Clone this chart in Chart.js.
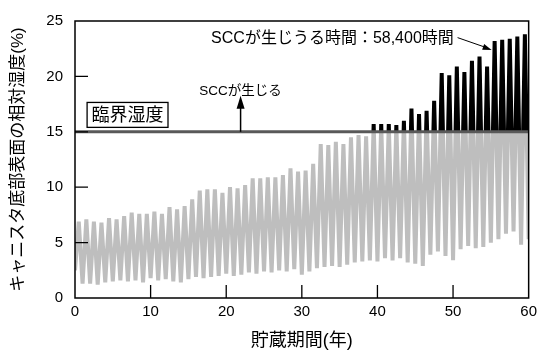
<!DOCTYPE html>
<html>
<head>
<meta charset="utf-8">
<script src="https://cdn.jsdelivr.net/npm/chart.js@4.4.1/dist/chart.umd.min.js"></script>
<style>
  html, body { margin: 0; padding: 0; background: #fff; }
  #wrap { width: 542px; height: 356px; }
</style>
</head>
<body>
<div id="wrap"><canvas id="myChart" width="542" height="356"></canvas></div>
<script>
// storage years (trough of each yearly cycle sits on the whole year)
const years = [0, 1, 2, 3, 4, 5, 6, 7, 8, 9, 10, 11, 12, 13, 14, 15, 16, 17, 18, 19, 20,
  21, 22, 23, 24, 25, 26, 27, 28, 29, 30, 31, 32, 33, 34, 35, 36, 37, 38, 39, 40,
  41, 42, 43, 44, 45, 46, 47, 48, 49, 50, 51, 52, 53, 54, 55, 56, 57, 58, 59, 60];

// yearly maximum RH (%), one per year 0-59
const peakRH = [6.9, 7.1, 6.9, 6.8, 7.2, 7.1, 7.4, 7.7, 7.6, 7.6,
  7.8, 7.6, 8.2, 8.0, 8.3, 8.9, 9.7, 9.8, 9.8, 9.5,
  10.0, 9.9, 10.2, 10.8, 10.8, 10.9, 10.9, 11.1, 11.7, 11.4,
  11.5, 12.1, 13.9, 13.8, 14.1, 13.9, 14.5, 14.7, 14.6, 15.7,
  15.7, 15.7, 15.6, 16.0, 17.1, 16.6, 16.9, 17.8, 20.3, 20.1,
  20.9, 20.4, 21.4, 21.8, 20.9, 23.2, 23.3, 23.4, 23.6, 23.8];

// yearly minimum RH (%), one per year 0-60
const troughRH = [2.5, 1.3, 1.3, 1.2, 1.4, 1.5, 1.6, 1.5, 1.6, 1.4,
  1.8, 1.6, 1.7, 1.5, 1.4, 1.7, 1.9, 1.8, 1.9, 2.0,
  2.2, 2.0, 2.1, 2.3, 2.2, 2.4, 2.3, 2.5, 2.4, 2.6,
  2.1, 2.4, 2.7, 2.8, 2.9, 2.8, 3.0, 3.2, 3.3, 3.4,
  3.3, 3.6, 3.4, 3.6, 3.2, 3.1, 2.9, 3.9, 4.2, 3.8,
  3.4, 4.4, 4.7, 4.5, 4.6, 5.0, 5.3, 5.8, 6.0, 4.8, 5.3];

const criticalRH = 15;
const xTicks = [0, 10, 20, 30, 40, 50, 60];
const yTicks = [0, 5, 10, 15, 20, 25];

const GRAY = '#bebebe';
const FONT = '"Liberation Sans", Arial, "Noto Sans CJK JP", sans-serif';

// zigzag: trough at start of year, peak in the middle of it
const rhPoints = [];
for (let i = 0; i < peakRH.length; i++) {
    rhPoints.push({ x: years[i], y: troughRH[i] });
    rhPoints.push({ x: years[i] + 0.5, y: peakRH[i] });
}
rhPoints.push({ x: years[years.length - 1], y: troughRH[troughRH.length - 1] });

const limitPoints = [
    { x: xTicks[0], y: criticalRH },
    { x: xTicks[xTicks.length - 1], y: criticalRH }
];

// gray below the critical humidity, black above it
function curveColor(context) {
    const chart = context.chart;
    const area = chart.chartArea;
    if (!area) return GRAY;
    const y15 = chart.scales.y.getPixelForValue(criticalRH);
    const f = (area.bottom - y15) / (area.bottom - area.top);
    const g = chart.ctx.createLinearGradient(0, area.bottom, 0, area.top);
    g.addColorStop(0, GRAY);
    g.addColorStop(f, GRAY);
    g.addColorStop(f, '#000');
    g.addColorStop(1, '#000');
    return g;
}

function arrowHead(ctx, x1, y1, x2, y2, len, half) {
    const a = Math.atan2(y2 - y1, x2 - x1);
    ctx.beginPath();
    ctx.moveTo(x2, y2);
    ctx.lineTo(x2 - len * Math.cos(a) + half * Math.sin(a), y2 - len * Math.sin(a) - half * Math.cos(a));
    ctx.lineTo(x2 - len * Math.cos(a) - half * Math.sin(a), y2 - len * Math.sin(a) + half * Math.cos(a));
    ctx.closePath();
    ctx.fill();
}

// frame, inward ticks and the notes
const frameAndNotes = {
    id: 'frameAndNotes',
    afterDraw(chart) {
        const ctx = chart.ctx;
        const a = chart.chartArea;
        const sx = chart.scales.x, sy = chart.scales.y;
        const X = v => sx.getPixelForValue(v);
        const Y = v => sy.getPixelForValue(v);
        ctx.save();
        ctx.strokeStyle = '#000';
        ctx.fillStyle = '#000';

        // inward tick marks
        ctx.lineWidth = 1.3;
        ctx.beginPath();
        xTicks.slice(1, -1).forEach(t => { ctx.moveTo(X(t), a.bottom); ctx.lineTo(X(t), a.bottom - 13); });
        yTicks.slice(1, -1).forEach(t => { ctx.moveTo(a.left, Y(t)); ctx.lineTo(a.left + 13, Y(t)); });
        ctx.stroke();

        // frame
        ctx.lineWidth = 1.5;
        ctx.strokeRect(a.left, a.top, a.right - a.left, a.bottom - a.top);

        // 臨界湿度 box
        ctx.lineWidth = 1.3;
        ctx.fillStyle = '#fff';
        ctx.fillRect(X(1.6), Y(17.65), X(12.3) - X(1.6), Y(15.4) - Y(17.65));
        ctx.strokeRect(X(1.6), Y(17.65), X(12.3) - X(1.6), Y(15.4) - Y(17.65));
        ctx.fillStyle = '#000';
        ctx.font = '18px ' + FONT;
        ctx.textAlign = 'center';
        ctx.textBaseline = 'middle';
        ctx.fillText('臨界湿度', X(6.95), Y(16.5) + 1);

        // SCCが生じる with arrow
        ctx.font = '13.5px ' + FONT;
        ctx.fillText('SCCが生じる', X(21.9), Y(18.65));
        ctx.lineWidth = 1.5;
        ctx.beginPath();
        ctx.moveTo(X(21.9), Y(criticalRH));
        ctx.lineTo(X(21.9), Y(17.3));
        ctx.stroke();
        arrowHead(ctx, X(21.9), Y(criticalRH), X(21.9), Y(18.25), 13, 4);

        // SCC time note with pointer
        ctx.font = '16px ' + FONT;
        ctx.textAlign = 'left';
        ctx.fillText('SCCが生じうる時間：58,400時間', X(18.0), Y(23.45));
        ctx.lineWidth = 1;
        ctx.beginPath();
        ctx.moveTo(X(50.6), Y(23.5));
        ctx.lineTo(X(54.6), Y(22.55));
        ctx.stroke();
        arrowHead(ctx, X(50.6), Y(23.5), X(55.1), Y(22.39), 9, 3);

        ctx.restore();
    }
};

const ctx = document.getElementById('myChart').getContext('2d');

new Chart(ctx, {
    type: 'line',
    data: {
        datasets: [
            {
                label: '臨界湿度',
                data: limitPoints,
                borderColor: '#595959',
                borderWidth: 3,
                pointRadius: 0
            },
            {
                label: '相対湿度',
                data: rhPoints,
                borderColor: curveColor,
                borderWidth: 4,
                borderJoinStyle: 'bevel',
                pointRadius: 0,
                tension: 0
            }
        ]
    },
    options: {
        responsive: false,
        animation: false,
        devicePixelRatio: 1,
        layout: { padding: { left: 0, right: 13, top: 17, bottom: 0 } },
        plugins: {
            legend: { display: false },
            tooltip: { enabled: false },
            title: { display: false }
        },
        scales: {
            x: {
                type: 'linear',
                min: 0,
                max: 60,
                afterFit: s => { s.height = 58; },
                grid: { display: false, drawTicks: false },
                border: { display: false },
                ticks: { stepSize: 10, padding: 5, color: '#000', font: { family: FONT, size: 15 } },
                title: {
                    display: true,
                    text: '貯蔵期間(年)',
                    color: '#000',
                    font: { family: FONT, size: 18 },
                    padding: { top: 0, bottom: 4 }
                }
            },
            y: {
                min: 0,
                max: 25,
                afterFit: s => { s.width = 75; },
                grid: { display: false, drawTicks: false },
                border: { display: false },
                ticks: { stepSize: 5, padding: 12, color: '#000', font: { family: FONT, size: 15 } },
                title: {
                    display: true,
                    text: 'キャニスタ底部表面の相対湿度(%)',
                    color: '#000',
                    font: { family: FONT, size: 17 },
                    padding: { top: 8, bottom: 0 }
                }
            }
        }
    },
    plugins: [frameAndNotes]
});
</script>
</body>
</html>
